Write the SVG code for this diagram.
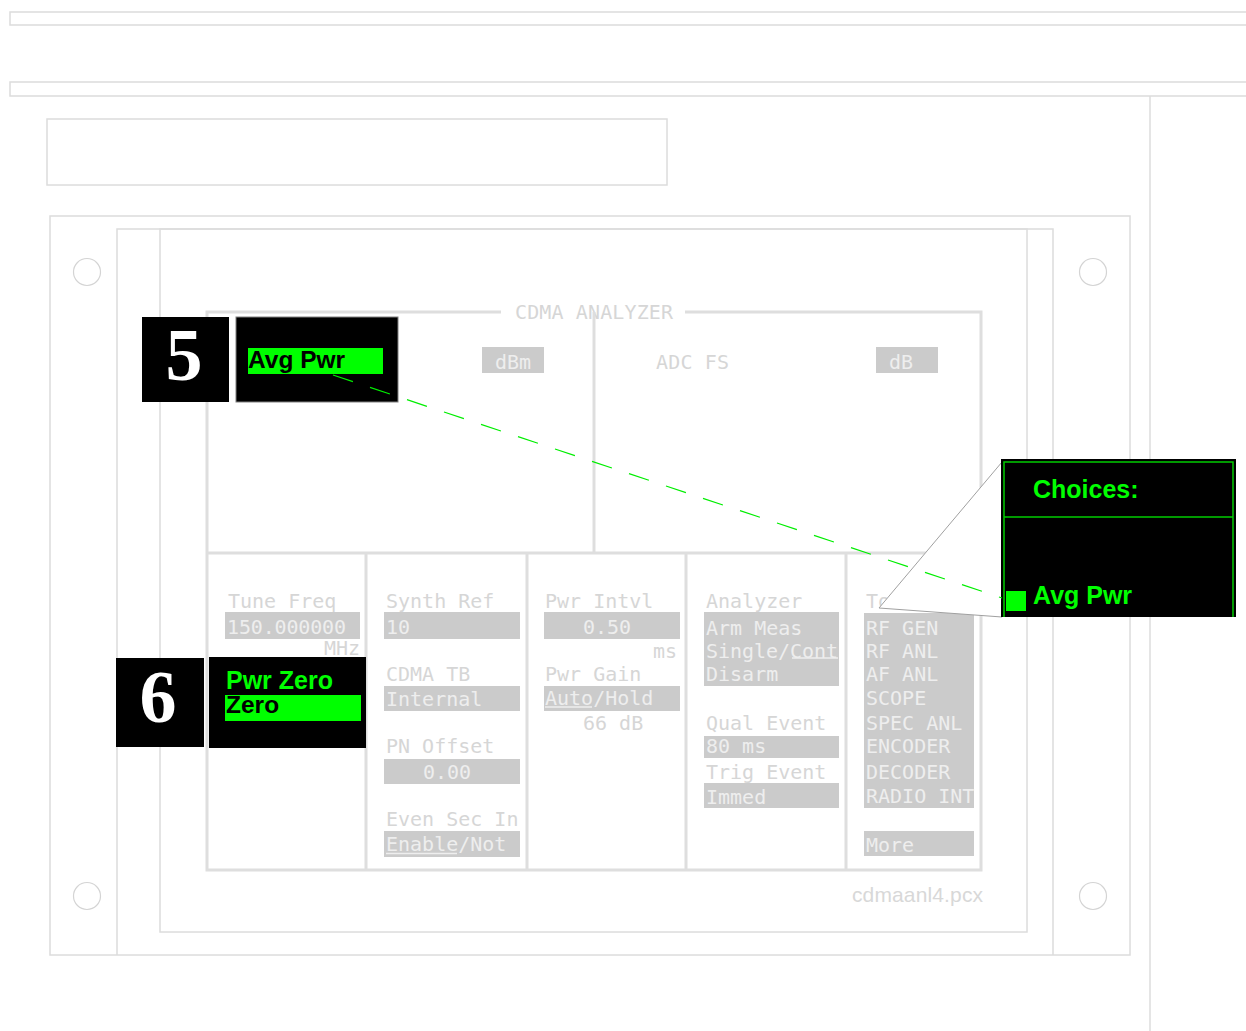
<svg xmlns="http://www.w3.org/2000/svg" width="1246" height="1031" viewBox="0 0 1246 1031">
<style>
.frame{fill:none;stroke:#dcdcdc;stroke-width:1.5}
.scr{fill:none;stroke:#dedede;stroke-width:3}
.hole{fill:none;stroke:#d4d4d4;stroke-width:1.2}
.lbl{font-family:"DejaVu Sans Mono",monospace;font-size:20px;fill:#d6d6d6}
.fld{fill:#cbcbcb}
.ftx{font-family:"DejaVu Sans Mono",monospace;font-size:20px;fill:#eeeeee}
.ul{stroke:#eeeeee;stroke-width:1.5}
.num{font-family:"Liberation Serif",serif;font-weight:bold;font-size:74px;fill:#ffffff;text-anchor:middle}
.gtx{font-family:"Liberation Sans",Arial,sans-serif;font-weight:bold;font-size:25px;fill:#00ff00}
.btx{font-family:"Liberation Sans",Arial,sans-serif;font-weight:bold;font-size:24.5px;fill:#000000}
</style>
<rect width="1246" height="1031" fill="#ffffff"/>
<g id="page-frame">
<path class="frame" d="M1246,12 H10 V25 H1246"/>
<path class="frame" d="M1246,82 H10 V96 H1246"/>
<line class="frame" x1="1150" y1="96" x2="1150" y2="1031"/>
<rect class="frame" x="47" y="119" width="620" height="66"/>
<rect class="frame" x="50" y="216" width="1080" height="739"/>
<path class="frame" d="M117,955 V229 H1053 V955"/>
<rect class="frame" x="160" y="229" width="867" height="703"/>
<circle class="hole" cx="87" cy="272" r="13.5"/>
<circle class="hole" cx="1093" cy="272" r="13.5"/>
<circle class="hole" cx="87" cy="896" r="13.5"/>
<circle class="hole" cx="1093" cy="896" r="13.5"/>
<text x="852" y="902" font-family="Liberation Sans,Arial,sans-serif" font-size="21" fill="#d8d8d8" textLength="131">cdmaanl4.pcx</text>
</g>
<g id="screen">
<path class="scr" d="M501,312 H207 V870 H981 V312 H685"/>
<text class="lbl" x="594" y="319" text-anchor="middle" textLength="158">CDMA ANALYZER</text>
<line class="scr" x1="594" y1="312" x2="594" y2="553"/>
<line class="scr" x1="207" y1="553" x2="981" y2="553" stroke-width="4"/>
<line class="scr" x1="366" y1="553" x2="366" y2="870"/>
<line class="scr" x1="527" y1="553" x2="527" y2="870"/>
<line class="scr" x1="686" y1="553" x2="686" y2="870"/>
<line class="scr" x1="846" y1="553" x2="846" y2="870"/>
<rect class="fld" x="482" y="347" width="62" height="26"/>
<text class="ftx" x="513" y="369" text-anchor="middle">dBm</text>
<text class="lbl" x="656" y="369" textLength="73">ADC FS</text>
<rect class="fld" x="876" y="347" width="62" height="26"/>
<text class="ftx" x="901" y="369" text-anchor="middle">dB</text>
<text class="lbl" x="228" y="608">Tune Freq</text>
<rect class="fld" x="225" y="612" width="135" height="27"/>
<text class="ftx" x="227" y="634" textLength="119">150.000000</text>
<text class="lbl" x="360" y="655" text-anchor="end">MHz</text>
<text class="lbl" x="386" y="608">Synth Ref</text>
<rect class="fld" x="384" y="612" width="136" height="27"/>
<text class="ftx" x="386" y="634">10</text>
<text class="lbl" x="386" y="681">CDMA TB</text>
<rect class="fld" x="384" y="686" width="136" height="25"/>
<text class="ftx" x="386" y="706">Internal</text>
<text class="lbl" x="386" y="753">PN Offset</text>
<rect class="fld" x="384" y="759" width="136" height="25"/>
<text class="ftx" x="447" y="779" text-anchor="middle">0.00</text>
<text class="lbl" x="386" y="826">Even Sec In</text>
<rect class="fld" x="384" y="831" width="136" height="26"/>
<text class="ftx" x="386" y="851">Enable/Not</text>
<line class="ul" x1="386" y1="853.5" x2="457" y2="853.5"/>
<text class="lbl" x="545" y="608">Pwr Intvl</text>
<rect class="fld" x="544" y="612" width="136" height="27"/>
<text class="ftx" x="607" y="634" text-anchor="middle">0.50</text>
<text class="lbl" x="677" y="658" text-anchor="end">ms</text>
<text class="lbl" x="545" y="681">Pwr Gain</text>
<rect class="fld" x="544" y="686" width="136" height="25"/>
<text class="ftx" x="545" y="705">Auto/Hold</text>
<line class="ul" x1="545" y1="707" x2="592" y2="707"/>
<text class="lbl" x="583" y="730">66 dB</text>
<text class="lbl" x="706" y="608">Analyzer</text>
<rect class="fld" x="704" y="612" width="135" height="74"/>
<text class="ftx" x="706" y="635">Arm Meas</text>
<text class="ftx" x="706" y="658" textLength="132">Single/Cont</text>
<line class="ul" x1="792" y1="658" x2="838" y2="658"/>
<text class="ftx" x="706" y="681">Disarm</text>
<text class="lbl" x="706" y="730">Qual Event</text>
<rect class="fld" x="704" y="736" width="135" height="22"/>
<text class="ftx" x="706" y="753">80 ms</text>
<text class="lbl" x="706" y="779">Trig Event</text>
<rect class="fld" x="704" y="783" width="135" height="25"/>
<text class="ftx" x="706" y="804">Immed</text>
<text class="lbl" x="866" y="608">To</text>
<rect class="fld" x="864" y="613" width="110" height="195"/>
<text class="ftx" x="866" y="635">RF GEN</text>
<text class="ftx" x="866" y="658">RF ANL</text>
<text class="ftx" x="866" y="681">AF ANL</text>
<text class="ftx" x="866" y="705">SCOPE</text>
<text class="ftx" x="866" y="730">SPEC ANL</text>
<text class="ftx" x="866" y="753">ENCODER</text>
<text class="ftx" x="866" y="779">DECODER</text>
<text class="ftx" x="866" y="803">RADIO INT</text>
<rect class="fld" x="864" y="831" width="110" height="25"/>
<text class="ftx" x="866" y="852">More</text>
</g>
<g id="callout-5">
<rect x="142" y="317" width="87" height="85" fill="#000000"/>
<text class="num" x="184" y="380">5</text>
<rect x="236" y="317" width="162" height="85" fill="#000000" stroke="#808080" stroke-width="1"/>
<rect x="248" y="348" width="135" height="26" fill="#00ff00"/>
<text class="btx" x="248" y="368">Avg Pwr</text>
</g>
<g id="callout-6">
<rect x="116" y="658" width="88" height="89" fill="#000000"/>
<text class="num" x="158" y="722">6</text>
<rect x="209" y="657" width="157" height="91" fill="#000000"/>
<text class="gtx" x="226" y="689">Pwr Zero</text>
<rect x="225" y="695" width="136" height="26" fill="#00ff00"/>
<text class="btx" x="226" y="713">Zero</text>
</g>
<g id="choices-box">
<polygon points="879,608 1002,462 1002,617" fill="#ffffff" stroke="#a0a0a0" stroke-width="1"/>
<rect x="1001" y="459" width="235" height="158" fill="#000000"/>
<path d="M1004,617 V462 H1233 V617" fill="none" stroke="#00cc00" stroke-width="1.5"/>
<line x1="1004" y1="517" x2="1233" y2="517" stroke="#00cc00" stroke-width="1.5"/>
<text class="gtx" x="1033" y="498">Choices:</text>
<rect x="1006" y="591" width="20" height="20" fill="#00ff00"/>
<text class="gtx" x="1033" y="604">Avg Pwr</text>
</g>
<g id="connectors">
<line x1="333" y1="375" x2="1002" y2="598" stroke="#00ee00" stroke-width="1.2" stroke-dasharray="21,18"/>
</g>
</svg>
